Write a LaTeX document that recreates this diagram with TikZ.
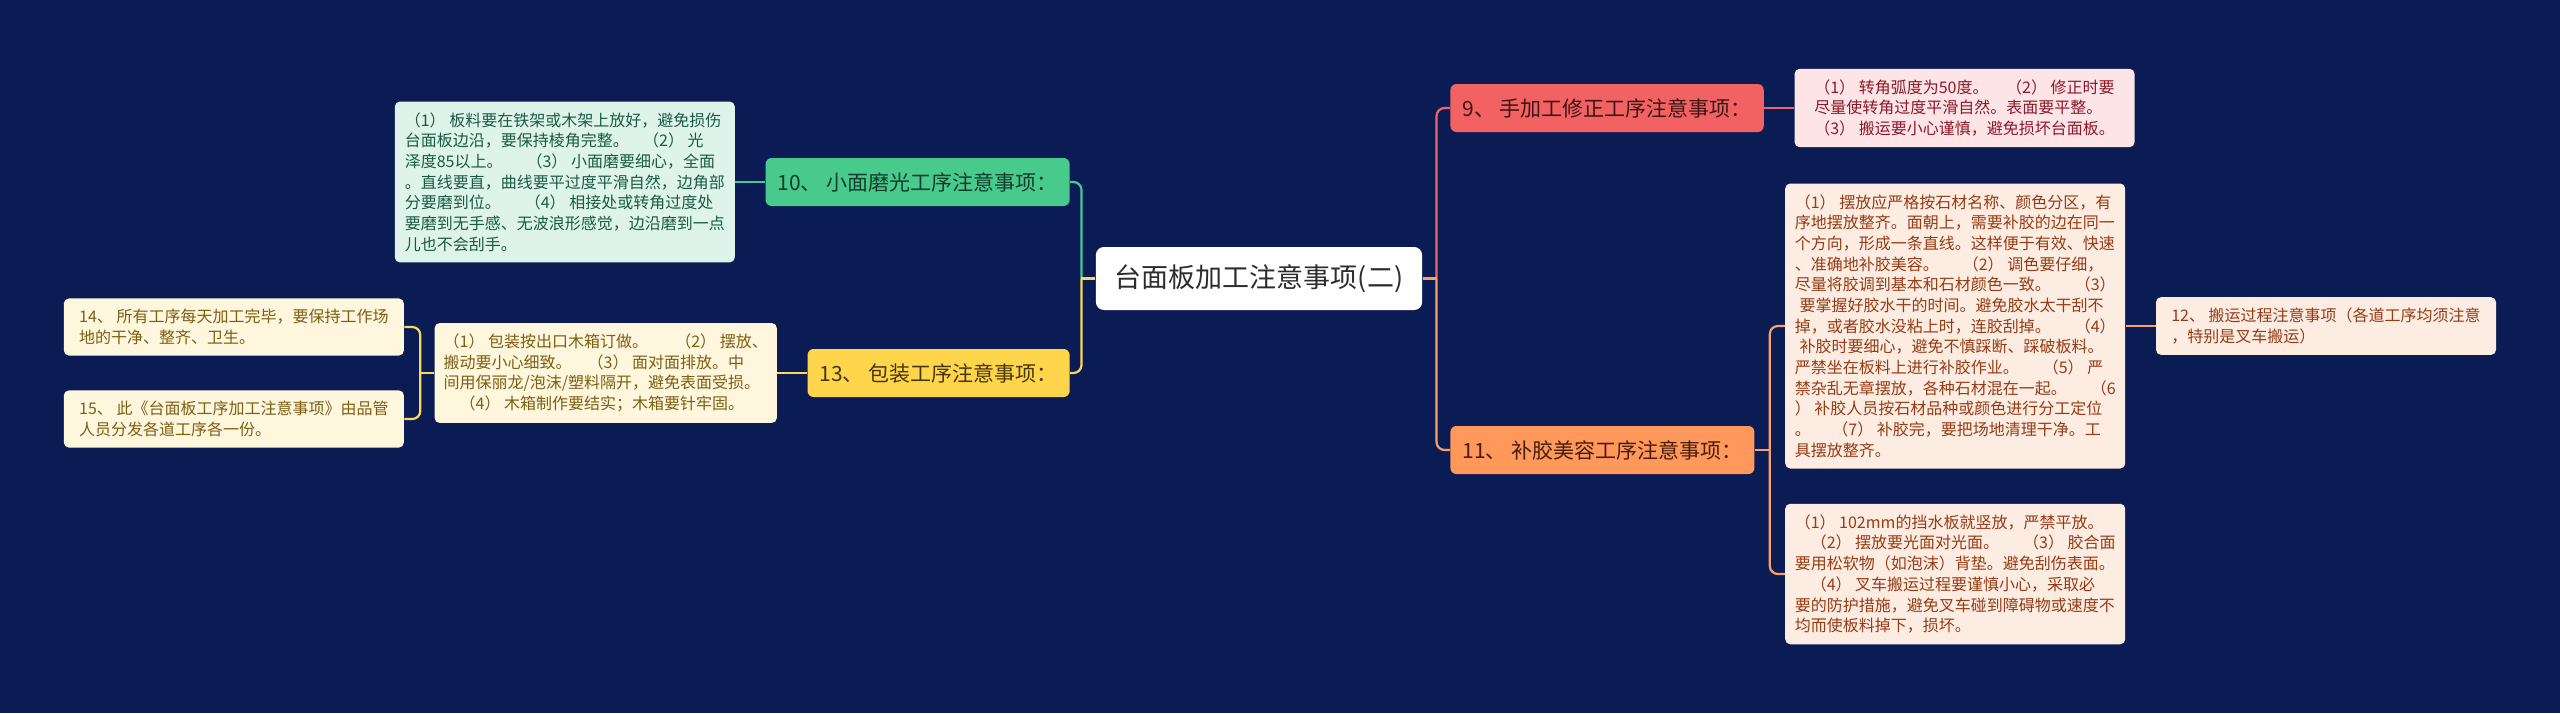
\documentclass[tikz,border=0pt]{standalone}
\usepackage{fontspec}
\setmainfont{Noto Sans CJK SC}
\usepackage{tikz}
\usetikzlibrary{positioning}
\definecolor{NightBlue}{RGB}{11,28,84}
\definecolor{RootText}{RGB}{45,45,45}
\definecolor{CoralRed}{RGB}{243,98,98}
\definecolor{CoralText}{RGB}{60,20,20}
\definecolor{SoftCoral}{RGB}{253,228,230}
\definecolor{DeepCoral}{RGB}{140,25,40}
\definecolor{MintGreen}{RGB}{72,202,140}
\definecolor{MintText}{RGB}{20,60,45}
\definecolor{SoftMint}{RGB}{222,244,234}
\definecolor{DeepMint}{RGB}{25,90,70}
\definecolor{Apricot}{RGB}{255,152,90}
\definecolor{ApricotText}{RGB}{70,30,10}
\definecolor{SoftApricot}{RGB}{253,236,225}
\definecolor{DeepApricot}{RGB}{150,60,20}
\definecolor{Sunny}{RGB}{255,213,75}
\definecolor{SunnyText}{RGB}{70,55,10}
\definecolor{SoftSunny}{RGB}{254,246,221}
\definecolor{DeepSunny}{RGB}{125,95,20}
\definecolor{LineRed}{RGB}{238,100,110}
\definecolor{LineGreen}{RGB}{70,200,150}
\definecolor{LineOrange}{RGB}{250,160,100}
\definecolor{LineYellow}{RGB}{250,215,95}
\newcommand{\gp}[1][1.5em]{\hspace{#1}}
\newcommand{\indnt}[1][1em]{\hspace*{#1}}

\begin{document}
\begin{tikzpicture}[x=0.5pt, y=-0.5pt,
    rootbox/.style={fill=white, text=RootText, rounded corners=4pt, minimum height=31.5pt, inner xsep=9.5pt, font=\fontsize{13.5}{16}\selectfont},
    subbox/.style={rounded corners=3pt, minimum height=24pt, inner xsep=6pt, font=\fontsize{10.5}{12}\selectfont},
    notebox/.style={rounded corners=2.5pt, minimum width=170pt, inner xsep=4.5pt, inner ysep=5.4pt, align=left, font=\fontsize{8}{10.35}\selectfont},
    link/.style={line width=1.1pt, rounded corners=4pt}]
    % background and frame
    \fill [NightBlue] (0,0) rectangle (2560,713);
    \useasboundingbox (0,0) rectangle (2560,713);

    \node [rootbox] (root) at (1259,278.5) {台面板加工注意事项(二)};

    % right side
    \node [subbox, fill=CoralRed, text=CoralText, anchor=west] (hand) at (1450,108) {9、 手加工修正工序注意事项：};
    \node [notebox, fill=SoftCoral, text=DeepCoral, right=15pt of hand] (handNote) {（1） 转角弧度为50度。\gp[1.1em]（2） 修正时要\\尽量使转角过度平滑自然。表面要平整。\\（3） 搬运要小心谨慎，避免损坏台面板。};
    \node [subbox, fill=Apricot, text=ApricotText, anchor=west] (repair) at (1450,450) {11、 补胶美容工序注意事项：};
    \node [notebox, fill=SoftApricot, text=DeepApricot, right=15pt of repair, yshift=62pt] (repairNoteA) {（1） 摆放应严格按石材名称、颜色分区，有\\序地摆放整齐。面朝上，需要补胶的边在同一\\个方向，形成一条直线。这样便于有效、快速\\、准确地补胶美容。\gp（2） 调色要仔细，\\尽量将胶调到基本和石材颜色一致。\gp（3）\\\indnt[0.3em]要掌握好胶水干的时间。避免胶水太干刮不\\掉，或者胶水没粘上时，连胶刮掉。\gp（4）\\\indnt[0.3em]补胶时要细心，避免不慎踩断、踩破板料。\\严禁坐在板料上进行补胶作业。\gp（5） 严\\禁杂乱无章摆放，各种石材混在一起。\gp（6\\） 补胶人员按石材品种或颜色进行分工定位\\。\gp[1.35em]（7） 补胶完，要把场地清理干净。工\\具摆放整齐。};
    \node [notebox, fill=SoftApricot, text=DeepApricot, right=15pt of repair, yshift=-62pt] (repairNoteB) {（1） 102mm的挡水板就竖放，严禁平放。\\\indnt（2） 摆放要光面对光面。\gp（3） 胶合面\\要用松软物（如泡沫）背垫。避免刮伤表面。\\\indnt（4） 叉车搬运过程要谨慎小心，采取必\\要的防护措施，避免叉车碰到障碍物或速度不\\均而使板料掉下，损坏。};
    \node [notebox, fill=SoftApricot, text=DeepApricot, right=15pt of repairNoteA] (moveNote) {12、 搬运过程注意事项（各道工序均须注意\\，特别是叉车搬运）};

    % left side
    \node [subbox, fill=MintGreen, text=MintText, anchor=east] (polish) at (1070,182) {10、 小面磨光工序注意事项：};
    \node [notebox, fill=SoftMint, text=DeepMint, left=15pt of polish] (polishNote) {（1） 板料要在铁架或木架上放好，避免损伤\\台面板边沿，要保持棱角完整。\gp[0.9em]（2） 光\\泽度85以上。\gp（3） 小面磨要细心，全面\\。直线要直，曲线要平过度平滑自然，边角部\\分要磨到位。\gp（4） 相接处或转角过度处\\要磨到无手感、无波浪形感觉，边沿磨到一点\\儿也不会刮手。};
    \node [subbox, fill=Sunny, text=SunnyText, anchor=east] (pack) at (1070,373) {13、 包装工序注意事项：};
    \node [notebox, fill=SoftSunny, text=DeepSunny, left=15pt of pack] (packNote) {（1） 包装按出口木箱订做。\gp[1.7em]（2） 摆放、\\搬动要小心细致。\gp[1em]（3） 面对面排放。中\\间用保丽龙/泡沫/塑料隔开，避免表面受损。\\\indnt（4） 木箱制作要结实；木箱要针牢固。};
    \node [notebox, fill=SoftSunny, text=DeepSunny, left=15pt of packNote, yshift=23pt] (cleanNote) {14、 所有工序每天加工完毕，要保持工作场\\地的干净、整齐、卫生。};
    \node [notebox, fill=SoftSunny, text=DeepSunny, left=15pt of packNote, yshift=-23pt] (copyNote) {15、 此《台面板工序加工注意事项》由品管\\人员分发各道工序各一份。};

    % connectors
    \coordinate (lj) at ([xshift=-7pt]root.west);
    \coordinate (rj) at ([xshift=7pt]root.east);
    \coordinate (oj) at ([xshift=7.5pt]repair.east);
    \coordinate (yj) at ([xshift=-7pt]packNote.west);

    \draw [link, LineGreen] (lj) |- (polish.east);
    \draw [link, LineYellow] (lj) |- (pack.east);
    \draw [link, LineYellow] (root.west) -- (lj);
    \draw [link, LineGreen] (polish.west) -- (polishNote.east);
    \draw [link, LineYellow] (pack.west) -- (packNote.east);
    \draw [link, LineYellow] (packNote.west) -- (yj);
    \draw [link, LineYellow] (yj) |- (cleanNote.east);
    \draw [link, LineYellow] (yj) |- (copyNote.east);

    \draw [link, LineRed] (rj) |- (hand.west);
    \draw [link, LineOrange] (rj) |- (repair.west);
    \draw [link, LineOrange] (root.east) -- (rj);
    \draw [link, LineRed] (hand.east) -- (handNote.west);
    \draw [link, LineOrange] (repair.east) -- (oj);
    \draw [link, LineOrange] (oj) |- (repairNoteA.west);
    \draw [link, LineOrange] (oj) |- (repairNoteB.west);
    \draw [link, LineOrange] (repairNoteA.east) -- (moveNote.west);
\end{tikzpicture}
\end{document}
